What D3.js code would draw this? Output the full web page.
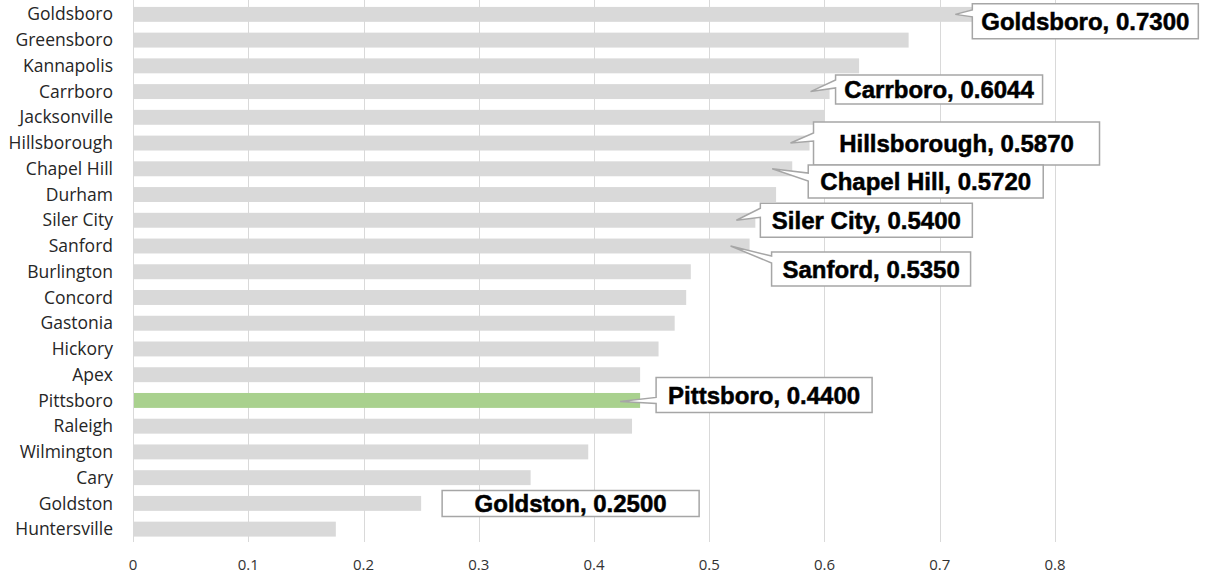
<!DOCTYPE html>
<html>
<head>
<meta charset="utf-8">
<script src="https://cdn.jsdelivr.net/npm/d3@7"></script>
<style>
  html, body { margin: 0; padding: 0; background: #fff; }
  #chart { width: 1206px; height: 578px; }
</style>
</head>
<body>
<div id="chart"></div>
<script>
// data, top to bottom
const cities = ["Goldsboro", "Greensboro", "Kannapolis", "Carrboro", "Jacksonville",
    "Hillsborough", "Chapel Hill", "Durham", "Siler City", "Sanford", "Burlington",
    "Concord", "Gastonia", "Hickory", "Apex", "Pittsboro", "Raleigh", "Wilmington",
    "Cary", "Goldston", "Huntersville"];
const values = [0.73, 0.673, 0.630, 0.6044, 0.600, 0.587, 0.572, 0.558, 0.54, 0.535,
    0.484, 0.480, 0.470, 0.456, 0.440, 0.44, 0.433, 0.395, 0.345, 0.25, 0.176];
const xTicks = [0, 0.1, 0.2, 0.3, 0.4, 0.5, 0.6, 0.7, 0.8];
const highlight = "Pittsboro";

// callout labels (which city) and where the box sits relative to the bar end
const calloutCities = ["Goldsboro", "Carrboro", "Hillsborough", "Chapel Hill",
    "Siler City", "Sanford", "Pittsboro", "Goldston"];
// dx: box left from bar end, dy: box top from row centre, w/h box size,
// tx/ty: pointer tip from bar end / row centre, b1/b2: pointer base (from box top)
const calloutLayout = [
    {dx: -2, dy: -10.5, w: 226, h: 35, tx: -19, ty: 0, b1: 6, b2: 13},
    {dx: 6, dy: -16.6, w: 207, h: 29, tx: -19, ty: 0, b1: 5, b2: 13},
    {dx: 4, dy: -21, w: 286, h: 43, tx: -19, ty: 0, b1: 11, b2: 19},
    {dx: 16, dy: -3.7, w: 235, h: 33, tx: -20, ty: 0, b1: 8, b2: 16},
    {dx: 5, dy: -17, w: 212, h: 34, tx: -19, ty: 0, b1: 5, b2: 14},
    {dx: 22, dy: 6, w: 199, h: 34, tx: -19, ty: 0, b1: 4, b2: 11},
    {dx: 16, dy: -23, w: 216, h: 35, tx: -20, ty: 1, b1: 20, b2: 26},
    {dx: 21, dy: -13, w: 257, h: 26, tx: null}
];

const width = 1206, height = 578;
const svg = d3.select("#chart").append("svg")
    .attr("width", width)
    .attr("height", height)
    .style("background", "#fff");

const x = d3.scaleLinear().domain([0, 0.8]).range([133, 1055]);
const y = d3.scaleBand().domain(cities).range([1.5, 542])
    .paddingInner(0.42).paddingOuter(0.21);

// gridlines
svg.append("g").selectAll("line")
    .data(xTicks)
    .join("line")
    .attr("x1", d => Math.round(x(d)) + 0.5)
    .attr("x2", d => Math.round(x(d)) + 0.5)
    .attr("y1", 0)
    .attr("y2", 542)
    .attr("stroke", "#d9d9d9")
    .attr("stroke-width", 1);

// x axis labels
svg.append("g").selectAll("text")
    .data(xTicks)
    .join("text")
    .attr("x", d => x(d))
    .attr("y", 570)
    .attr("text-anchor", "middle")
    .attr("font-family", "'Open Sans', sans-serif")
    .attr("font-size", "15px")
    .attr("fill", "#333")
    .text(d => d);

// bars
svg.append("g").selectAll("rect")
    .data(cities)
    .join("rect")
    .attr("x", x(0) + 1)
    .attr("y", d => y(d))
    .attr("width", (d, i) => x(values[i]) - x(0) - 1)
    .attr("height", y.bandwidth())
    .attr("fill", d => d === highlight ? "#a9d18e" : "#d9d9d9");

// category labels
svg.append("g").selectAll("text")
    .data(cities)
    .join("text")
    .attr("x", 113)
    .attr("y", d => y(d) + y.bandwidth() / 2)
    .attr("dy", "0.35em")
    .attr("text-anchor", "end")
    .attr("font-family", "'Open Sans', sans-serif")
    .attr("font-size", "17.5px")
    .attr("fill", "#262626")
    .text(d => d);

// callouts
const callouts = calloutCities.map((c, i) => {
    const v = values[cities.indexOf(c)];
    return {city: c, value: v, xe: x(v), yc: y(c) + y.bandwidth() / 2, ...calloutLayout[i]};
});

const cg = svg.append("g").selectAll("g")
    .data(callouts)
    .join("g");

cg.append("path")
    .attr("d", d => {
        const L = d.xe + d.dx, T = d.yc + d.dy, R = L + d.w, B = T + d.h;
        if (d.tx === null) {
            return `M${L},${T}H${R}V${B}H${L}Z`;
        }
        const tipX = d.xe + d.tx, tipY = d.yc + d.ty;
        return `M${L},${T}H${R}V${B}H${L}V${T + d.b2}L${tipX},${tipY}L${L},${T + d.b1}Z`;
    })
    .attr("fill", "#fff")
    .attr("stroke", "#a6a6a6")
    .attr("stroke-width", 1.5)
    .attr("stroke-linejoin", "miter");

cg.append("text")
    .attr("x", d => d.xe + d.dx + d.w / 2)
    .attr("y", d => d.yc + d.dy + d.h / 2 + 8.6)
    .attr("text-anchor", "middle")
    .attr("font-family", "'Liberation Sans', Arial, sans-serif")
    .attr("font-weight", "bold")
    .attr("font-size", "24px")
    .attr("fill", "#000")
    .attr("stroke", "#000")
    .attr("stroke-width", 0.5)
    .text(d => `${d.city}, ${d.value.toFixed(4)}`);
</script>
</body>
</html>
